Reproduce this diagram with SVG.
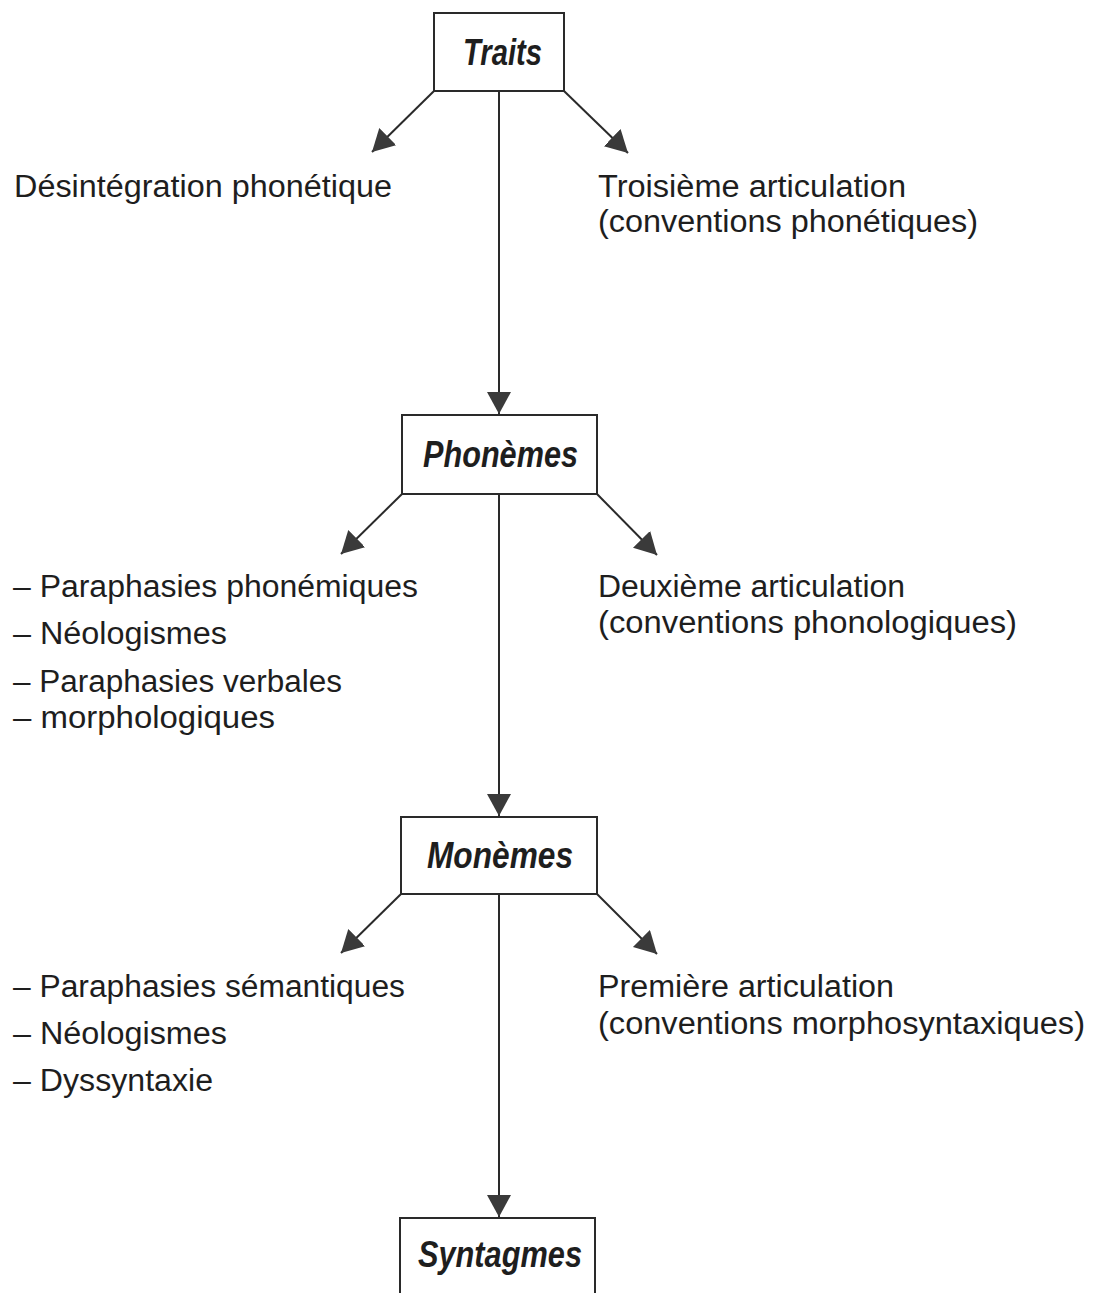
<svg xmlns="http://www.w3.org/2000/svg" width="1098" height="1293" viewBox="0 0 1098 1293">
<style>
.box{fill:#fff;stroke:#2a2a2a;stroke-width:2}
.lbl{font-family:"Liberation Sans Narrow","Liberation Sans",Arial,sans-serif;font-weight:bold;font-style:italic;font-size:37px;fill:#1e1e1e}
.txt{font-family:"Liberation Sans Narrow","Liberation Sans",Arial,sans-serif;font-size:31px;fill:#1e1e1e}
.con{stroke:#2a2a2a;stroke-width:2;fill:none;marker-end:url(#ah)}
</style>
<defs>
<marker id="ah" markerUnits="userSpaceOnUse" markerWidth="24" markerHeight="26" refX="22" refY="12" orient="auto">
<path d="M0,0 L22,12 L0,24 z" fill="#3a3a3a"/>
</marker>
</defs>
<rect width="1098" height="1293" fill="#fff"/>
<g id="connectors">
<line class="con" x1="499" y1="91" x2="499" y2="414"/>
<line class="con" x1="434" y1="91" x2="372" y2="152"/>
<line class="con" x1="564" y1="91" x2="628" y2="153"/>
<line class="con" x1="499" y1="494" x2="499" y2="816"/>
<line class="con" x1="402" y1="494" x2="341" y2="554"/>
<line class="con" x1="597" y1="494" x2="657" y2="555"/>
<line class="con" x1="499" y1="894" x2="499" y2="1217"/>
<line class="con" x1="401" y1="894" x2="341" y2="953"/>
<line class="con" x1="597" y1="894" x2="657" y2="954"/>
</g>
<g id="traits">
<rect class="box" x="434" y="13" width="130" height="78"/>
<text class="lbl" x="463" y="65" textLength="79" lengthAdjust="spacingAndGlyphs">Traits</text>
</g>
<g id="phonemes">
<rect class="box" x="402" y="415" width="195" height="79"/>
<text class="lbl" x="423" y="467" textLength="155" lengthAdjust="spacingAndGlyphs">Phonèmes</text>
</g>
<g id="monemes">
<rect class="box" x="401" y="817" width="196" height="77"/>
<text class="lbl" x="427" y="868" textLength="146" lengthAdjust="spacingAndGlyphs">Monèmes</text>
</g>
<g id="syntagmes">
<rect class="box" x="400" y="1218" width="195" height="90"/>
<text class="lbl" x="418" y="1267" textLength="164" lengthAdjust="spacingAndGlyphs">Syntagmes</text>
</g>
<g id="desintegration">
<text class="txt" x="14" y="197" textLength="378" lengthAdjust="spacingAndGlyphs">Désintégration phonétique</text>
</g>
<g id="troisieme">
<text class="txt" x="598" y="197" textLength="308" lengthAdjust="spacingAndGlyphs">Troisième articulation</text>
<text class="txt" x="598" y="232" textLength="380" lengthAdjust="spacingAndGlyphs">(conventions phonétiques)</text>
</g>
<g id="liste-phonemes">
<text class="txt" x="13" y="597" textLength="405" lengthAdjust="spacingAndGlyphs">– Paraphasies phonémiques</text>
<text class="txt" x="13" y="644" textLength="214" lengthAdjust="spacingAndGlyphs">– Néologismes</text>
<text class="txt" x="13" y="692" textLength="329" lengthAdjust="spacingAndGlyphs">– Paraphasies verbales</text>
<text class="txt" x="13" y="728" textLength="262" lengthAdjust="spacingAndGlyphs">– morphologiques</text>
</g>
<g id="deuxieme">
<text class="txt" x="598" y="597" textLength="307" lengthAdjust="spacingAndGlyphs">Deuxième articulation</text>
<text class="txt" x="598" y="633" textLength="419" lengthAdjust="spacingAndGlyphs">(conventions phonologiques)</text>
</g>
<g id="liste-monemes">
<text class="txt" x="13" y="997" textLength="392" lengthAdjust="spacingAndGlyphs">– Paraphasies sémantiques</text>
<text class="txt" x="13" y="1044" textLength="214" lengthAdjust="spacingAndGlyphs">– Néologismes</text>
<text class="txt" x="13" y="1091" textLength="200" lengthAdjust="spacingAndGlyphs">– Dyssyntaxie</text>
</g>
<g id="premiere">
<text class="txt" x="598" y="997" textLength="296" lengthAdjust="spacingAndGlyphs">Première articulation</text>
<text class="txt" x="598" y="1034" textLength="487" lengthAdjust="spacingAndGlyphs">(conventions morphosyntaxiques)</text>
</g>
</svg>
